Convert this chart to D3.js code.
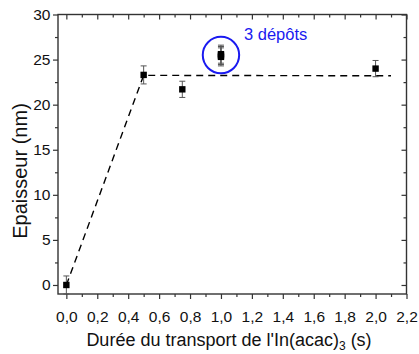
<!DOCTYPE html>
<html>
<head>
<meta charset="utf-8">
<script src="https://cdn.jsdelivr.net/npm/d3@7"></script>
<style>
  html, body { margin: 0; padding: 0; background: #fff; }
  svg { display: block; font-family: "Liberation Sans", Arial, sans-serif; }
</style>
</head>
<body>
<svg id="chart" width="419" height="354"></svg>
<script>
// Measured thickness versus In(acac)3 pulse duration
const durations = [0.0, 0.5, 0.75, 1.0, 1.0, 1.0, 2.0];
const thickness = [0.0, 23.3, 21.7, 25.3, 25.45, 25.6, 24.0];
const errors    = [1.0, 1.0, 0.9, 1.0, 1.0, 1.0, 0.9];

// Guide line: linear growth then saturation plateau
const guideX = [0.0, 0.5, 2.1];
const guideY = [0.0, 23.25, 23.2];

const xTicks = [0, 0.2, 0.4, 0.6, 0.8, 1.0, 1.2, 1.4, 1.6, 1.8, 2.0, 2.2];
const yTicks = [0, 5, 10, 15, 20, 25, 30];

const svg = d3.select("#chart");
const mLeft = 58, mRight = 406.5, mTop = 14.5, mBottom = 294;

const x = d3.scaleLinear().domain([-0.054, 2.2]).range([mLeft, mRight]);
const y = d3.scaleLinear().domain([-1, 30]).range([mBottom, mTop]);

const fmt = d => d3.format(".1f")(d).replace(".", ",");
const axisColor = "#333";

// Minor tick positions
const xMinor = d3.range(0.1, 2.2, 0.2);
const yMinor = d3.range(2.5, 30, 5);

function styleAxis(g) {
  g.select(".domain").remove();
  g.selectAll("line").attr("stroke", axisColor).attr("stroke-width", 1.2);
  g.selectAll("text").attr("fill", "#111").style("font-size", "15.5px");
}

// Bottom axis (outward ticks, labels)
svg.append("g").attr("transform", `translate(0,${mBottom})`)
  .call(d3.axisBottom(x).tickValues(xTicks).tickFormat(fmt).tickSize(5).tickPadding(12))
  .call(styleAxis);
svg.append("g").attr("transform", `translate(0,${mBottom})`)
  .call(d3.axisBottom(x).tickValues(xMinor).tickFormat("").tickSize(3))
  .call(styleAxis);

// Left axis (outward ticks, labels)
svg.append("g").attr("transform", `translate(${mLeft},0)`)
  .call(d3.axisLeft(y).tickValues(yTicks).tickFormat(d3.format("d")).tickSize(5).tickPadding(2.5))
  .call(styleAxis);
svg.append("g").attr("transform", `translate(${mLeft},0)`)
  .call(d3.axisLeft(y).tickValues(yMinor).tickFormat("").tickSize(3))
  .call(styleAxis);

// Top axis (inward ticks)
svg.append("g").attr("transform", `translate(0,${mTop})`)
  .call(d3.axisBottom(x).tickValues(xTicks).tickFormat("").tickSize(5))
  .call(styleAxis);
svg.append("g").attr("transform", `translate(0,${mTop})`)
  .call(d3.axisBottom(x).tickValues(xMinor).tickFormat("").tickSize(3))
  .call(styleAxis);

// Right axis (inward ticks)
svg.append("g").attr("transform", `translate(${mRight},0)`)
  .call(d3.axisLeft(y).tickValues(yTicks).tickFormat("").tickSize(5))
  .call(styleAxis);
svg.append("g").attr("transform", `translate(${mRight},0)`)
  .call(d3.axisLeft(y).tickValues(yMinor).tickFormat("").tickSize(3))
  .call(styleAxis);

// Frame
svg.append("rect")
  .attr("x", mLeft).attr("y", mTop)
  .attr("width", mRight - mLeft).attr("height", mBottom - mTop)
  .attr("fill", "none").attr("stroke", axisColor).attr("stroke-width", 1.4);

// Dashed guide
svg.append("path")
  .datum(guideX.map((d, i) => [d, guideY[i]]))
  .attr("d", d3.line().x(d => x(d[0])).y(d => y(d[1])))
  .attr("fill", "none").attr("stroke", "#000")
  .attr("stroke-width", 1.4).attr("stroke-dasharray", "7,5");

// Error bars
const pts = durations.map((d, i) => ({ x: d, y: thickness[i], e: errors[i] }));
const eb = svg.append("g").attr("stroke", "#555").attr("stroke-width", 1);
pts.forEach(p => {
  const cx = x(p.x);
  eb.append("line").attr("x1", cx).attr("x2", cx).attr("y1", y(p.y + p.e)).attr("y2", y(p.y - p.e));
  [p.y + p.e, p.y - p.e].forEach(v => {
    eb.append("line").attr("x1", cx - 3).attr("x2", cx + 3).attr("y1", y(v)).attr("y2", y(v));
  });
});

// Markers
svg.append("g").selectAll("rect").data(pts).join("rect")
  .attr("x", d => x(d.x) - 3.2).attr("y", d => y(d.y) - 3.2)
  .attr("width", 6.4).attr("height", 6.4).attr("fill", "#000");

// Annotation for the repeated depositions
svg.append("circle")
  .attr("cx", x(1.0)).attr("cy", y(25.5)).attr("r", 18.2)
  .attr("fill", "none").attr("stroke", "#1a1af0").attr("stroke-width", 2);
svg.append("text")
  .attr("x", 244).attr("y", 40)
  .attr("fill", "#1a1af0").style("font-size", "16.5px")
  .text("3 dépôts");

// Axis titles
svg.append("text")
  .attr("transform", `translate(27,171) rotate(-90)`)
  .attr("text-anchor", "middle").style("font-size", "20px").attr("fill", "#111")
  .text("Epaisseur (nm)");

const xt = svg.append("text")
  .attr("x", 229).attr("y", 346)
  .attr("text-anchor", "middle").style("font-size", "18px").attr("fill", "#111");
xt.append("tspan").text("Durée du transport de l'In(acac)");
xt.append("tspan").attr("dy", 4).style("font-size", "12px").text("3");
xt.append("tspan").attr("dy", -4).text(" (s)");
</script>
</body>
</html>
